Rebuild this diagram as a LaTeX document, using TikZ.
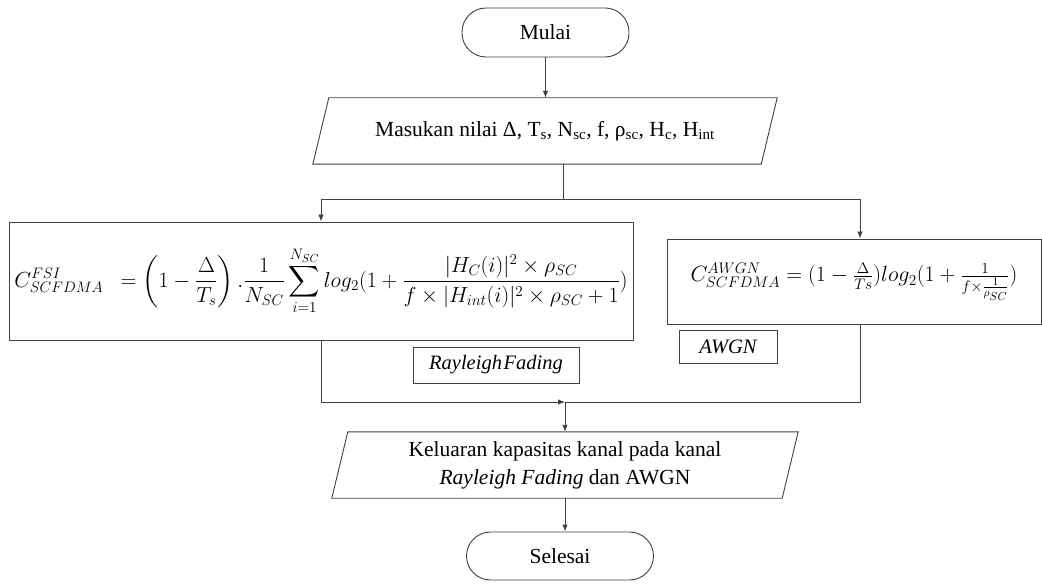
\documentclass[tikz,border=0pt]{standalone}
\usepackage{amsmath}
\usepackage{graphicx}
\usepackage{fontspec}
\setmainfont{Liberation Serif}
\usetikzlibrary{arrows.meta,calc}
\begin{document}
\begin{tikzpicture}[x=1pt,y=-1pt,
  every node/.style={font=\fontsize{21.5}{28}\selectfont, inner sep=0pt},
  ln/.style={draw=black!75, line width=0.9pt},
  term/.style={ln, rounded corners=24pt, minimum width=167pt, minimum height=49pt},
  procbox/.style={ln, rectangle},
  iotext/.style={minimum height=66pt, align=center},
  labelbox/.style={ln, rectangle, font=\fontsize{20.5}{24}\selectfont\itshape},
  arr/.style={ln, -{Latex[length=7pt,width=5.5pt]}}]
\useasboundingbox (0,0) rectangle (1042,588);

% nodes
\node[term] (mulai) at (545.5,32.5) {Mulai};
\node[iotext, minimum width=448pt] (in) at (545,131)
  {Masukan nilai Δ, T\textsubscript{s}, N\textsubscript{sc}, f, ρ\textsubscript{sc}, H\textsubscript{c}, H\textsubscript{int}};
\draw[ln] ($(in.north west)+(8,0)$) -- ($(in.north east)+(8,0)$) -- ($(in.south east)+(-8,0)$) -- ($(in.south west)+(-8,0)$) -- cycle;

\node[procbox, minimum width=624pt, minimum height=118pt] (lbox) at (321,281)
  {\resizebox{613pt}{!}{$\displaystyle C^{FSI}_{SCFDMA}\ \ =\left(1-\frac{\Delta}{T_s}\right).\frac{1}{N_{SC}}\sum_{i=1}^{N_{SC}} log_2(1+\frac{|H_C(i)|^2\times\rho_{SC}}{f\times|H_{int}(i)|^2\times\rho_{SC}+1})$}};
\node[procbox, minimum width=374pt, minimum height=85pt] (rbox) at (854,281.5)
  {\resizebox{327pt}{!}{$C^{AWGN}_{SCFDMA}=(1-\frac{\Delta}{Ts})log_2(1+\frac{1}{f\times\frac{1}{\rho_{SC}}})$}};

\node[labelbox, minimum width=166pt, minimum height=36pt] (rf) at (496,365) {Rayleigh\hspace{0.08em}Fading};
\node[labelbox, minimum width=98pt, minimum height=33pt] (awgn) at (728,346.5) {AWGN};

\node[iotext, minimum width=450pt] (out) at (565,465)
  {Keluaran kapasitas kanal pada kanal\\\textit{Rayleigh Fading} dan AWGN};
\draw[ln] ($(out.north west)+(8,0)$) -- ($(out.north east)+(8,0)$) -- ($(out.south east)+(-8,0)$) -- ($(out.south west)+(-8,0)$) -- cycle;

\node[term, minimum width=187pt, minimum height=48pt] (selesai) at (560,556) {Selesai};

% junction coordinates
\coordinate (s) at (563,199);
\coordinate (sr) at (860,199);
\coordinate (m) at (565,402);

% connectors
\draw[arr] (mulai) -- (mulai.south |- in.north);
\draw[ln] (in.south -| s) -- (s);
\draw[arr] (s) -| (lbox.north);
\draw[arr] (s) -- (sr) -- (rbox.north -| sr);
\draw[arr] (lbox.south) |- (m);
\draw[ln] (rbox.south -| sr) |- (m);
\draw[arr] (m) -- (out.north);
\draw[arr] (out.south) -- (out.south |- selesai.north);
\end{tikzpicture}
\end{document}
